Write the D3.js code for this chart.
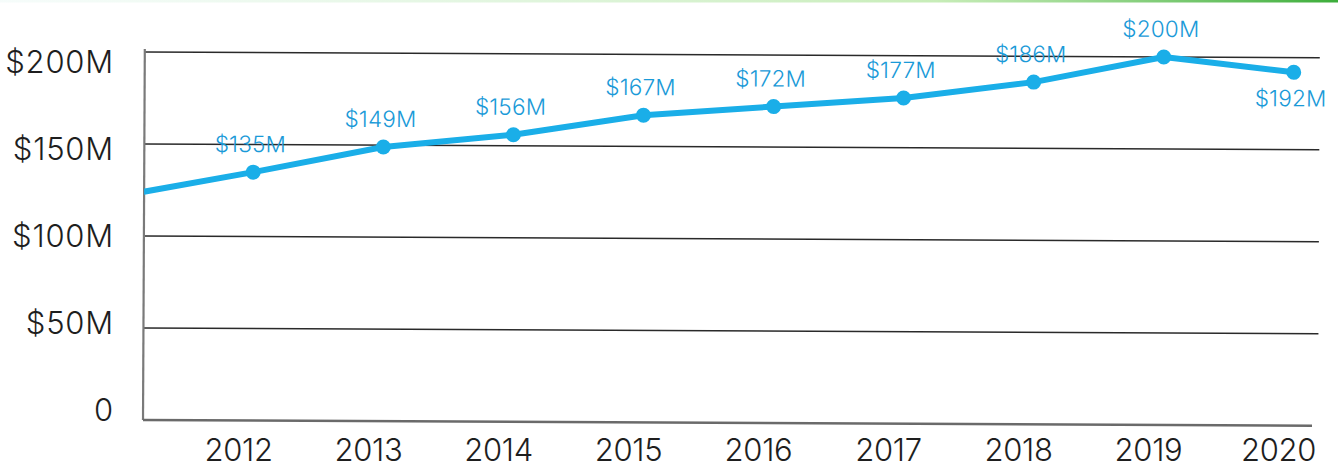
<!DOCTYPE html>
<html>
<head>
<meta charset="utf-8">
<script src="https://cdn.jsdelivr.net/npm/d3@7"></script>
<style>
  html, body { margin: 0; padding: 0; background: #fff; }
  svg { display: block; }
  text { font-family: Inter, Lato, "Noto Sans", sans-serif; font-weight: 300; }
</style>
</head>
<body>
<svg id="chart" width="1338" height="468"></svg>
<script>
// Annual revenue, in millions of dollars
const years = [2012, 2013, 2014, 2015, 2016, 2017, 2018, 2019, 2020];
const revenue = [135, 149, 156, 167, 172, 177, 186, 200, 192];
// The line enters from the previous year, which sits just left of the axis
const priorYear = 2011;
const priorRevenue = 122;
const yTicks = [0, 50, 100, 150, 200];
const yTickLabels = ["0", "$50M", "$100M", "$150M", "$200M"];
const labelBelow = [false, false, false, false, false, false, false, false, true];

const W = 1338, H = 468;
const plotLeft = 143, plotRight = 1318, plotTop = 52, plotBottom = 420;

const svg = d3.select("#chart");

// faint green strip along the top edge
const defs = svg.append("defs");
const grad = defs.append("linearGradient").attr("id", "topStrip");
grad.append("stop").attr("offset", "0%").attr("stop-color", "#e8f8f4").attr("stop-opacity", 0.4);
grad.append("stop").attr("offset", "70%").attr("stop-color", "#b9e8a6").attr("stop-opacity", 0.8);
grad.append("stop").attr("offset", "100%").attr("stop-color", "#3cad3a").attr("stop-opacity", 1);
svg.append("rect").attr("x", 0).attr("y", 0).attr("width", W).attr("height", 2.5)
  .attr("fill", "url(#topStrip)");

defs.append("clipPath").attr("id", "plotClip")
  .append("rect").attr("x", plotLeft).attr("y", 0).attr("width", plotRight - plotLeft + 20).attr("height", H);

const x = d3.scaleLinear().domain([2012, 2020]).range([252, 1292]);
const y = d3.scaleLinear().domain([0, 200]).range([plotBottom, plotTop]);
// tick labels sit on a slightly tighter ladder than the gridlines
const yLabel = d3.scaleLinear().domain([0, 200]).range([409, 61]);

// y tick labels
const yAxis = d3.axisLeft(yLabel).tickValues(yTicks).tickSize(0)
  .tickFormat((d, i) => yTickLabels[i]);
const yg = svg.append("g").attr("transform", `translate(${plotLeft},0)`).call(yAxis);
yg.select(".domain").remove();
yg.selectAll("text")
  .attr("x", -29)
  .attr("dy", "0.36em")
  .attr("fill", "#1e1e1e")
  .style("font-size", "31px")
  .style("letter-spacing", "0.8px");

// year labels
const xAxis = d3.axisBottom(x).tickValues(years).tickSize(0).tickFormat(d3.format("d"));
const xg = svg.append("g").attr("transform", `translate(0,${plotBottom})`).call(xAxis);
xg.select(".domain").remove();
xg.selectAll("text")
  .attr("dx", -14)
  .attr("y", 41)
  .attr("dy", 0)
  .attr("fill", "#1e1e1e")
  .style("font-size", "31px")
  .style("letter-spacing", "-0.3px");

// plot area, with a slight clockwise tilt
const g = svg.append("g").attr("transform", `rotate(0.28 ${plotLeft} ${plotBottom})`);

// horizontal gridlines
g.append("g").selectAll("line")
  .data(yTicks.filter(d => d > 0))
  .join("line")
  .attr("x1", plotLeft).attr("x2", plotRight)
  .attr("y1", d => y(d)).attr("y2", d => y(d))
  .attr("stroke", "#2a2a2a").attr("stroke-width", 1.5);

// left axis and baseline
g.append("line").attr("x1", plotLeft).attr("x2", plotLeft).attr("y1", plotTop - 3).attr("y2", plotBottom)
  .attr("stroke", "#7a7a7a").attr("stroke-width", 2.2);
g.append("line").attr("x1", plotLeft).attr("x2", plotRight - 6).attr("y1", plotBottom).attr("y2", plotBottom)
  .attr("stroke", "#6a6a6a").attr("stroke-width", 2.6);

// revenue line
const points = [{ year: priorYear, value: priorRevenue }]
  .concat(years.map((yr, i) => ({ year: yr, value: revenue[i] })));
const line = d3.line().x(d => x(d.year)).y(d => y(d.value));
const lineColor = "#1aaee8";

g.append("path")
  .datum(points)
  .attr("clip-path", "url(#plotClip)")
  .attr("d", line)
  .attr("fill", "none")
  .attr("stroke", lineColor)
  .attr("stroke-width", 6)
  .attr("stroke-linejoin", "round");

g.append("g").selectAll("circle")
  .data(points.slice(1))
  .join("circle")
  .attr("cx", d => x(d.year))
  .attr("cy", d => y(d.value))
  .attr("r", 7.5)
  .attr("fill", lineColor);

// value labels
g.append("g").selectAll("text")
  .data(points.slice(1))
  .join("text")
  .attr("x", d => x(d.year) - 3)
  .attr("y", (d, i) => y(d.value) + (labelBelow[i] ? 34 : -20))
  .attr("text-anchor", "middle")
  .attr("fill", "#1a9ad8")
  .style("font-size", "22.5px")
  .style("letter-spacing", "0.2px")
  .text(d => `$${d.value}M`);
</script>
</body>
</html>
